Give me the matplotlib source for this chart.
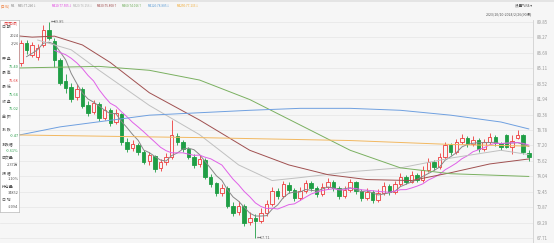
import numpy as np
import pandas as pd
import matplotlib
matplotlib.use("Agg")
import matplotlib.pyplot as plt

plt.rcParams['font.family'] = ['Noto Sans CJK SC', 'DejaVu Sans']

# candle data, index 0 = first candle right of the info panel
idx = np.arange(-3, 92)
opens = [85.0, 85.8, 85.3,
         85.65, 87.7, 86.5, 86.3, 87.5, 89.0, 87.9, 86.0, 83.8, 83.2,
         82.2, 83.0, 81.3, 80.6, 81.4, 80.0, 80.8, 79.6, 80.4, 77.6,
         76.9, 77.2, 76.5, 75.6, 76.1, 74.9, 75.5, 76.0, 78.2, 77.5,
         76.8, 76.0, 75.3, 75.7, 74.0, 73.3, 72.3, 72.8, 71.0, 70.4,
         71.0, 69.3, 69.8, 69.5, 70.3, 71.2, 72.5, 72.0, 73.1, 72.6,
         71.8, 72.5, 73.3, 72.8, 72.2, 72.9, 73.5, 72.8, 72.0, 72.6,
         73.4, 72.5, 71.8, 72.4, 71.6, 72.3, 73.0, 72.4, 73.2, 74.0,
         73.5, 74.2, 73.7, 74.7, 75.5, 75.0, 76.0, 77.2, 76.5, 77.5,
         78.0, 77.3, 77.8, 76.8, 77.5, 78.1, 77.4, 78.27, 77.0, 78.0,
         78.27, 76.40]
closes = [85.8, 85.3, 85.7,
          87.7, 87.0, 87.5, 87.2, 89.0, 88.2, 86.0, 83.6, 83.1, 82.0,
          83.0, 81.2, 80.5, 81.5, 80.0, 80.8, 79.5, 80.5, 77.5, 76.8,
          77.3, 76.5, 75.5, 76.2, 74.8, 75.5, 76.0, 78.3, 77.5, 76.8,
          76.0, 75.2, 75.8, 74.0, 73.2, 72.3, 72.8, 71.0, 70.3, 71.0,
          69.2, 69.8, 69.5, 70.3, 71.2, 72.5, 72.0, 73.2, 72.6, 71.8,
          72.5, 73.3, 72.8, 72.2, 72.9, 73.5, 72.8, 72.0, 72.6, 73.4,
          72.5, 71.8, 72.4, 71.6, 72.3, 73.0, 72.4, 73.2, 74.0, 73.5,
          74.2, 73.7, 74.7, 75.5, 75.0, 76.0, 77.2, 76.5, 77.5, 78.0,
          77.3, 77.8, 76.8, 77.5, 78.1, 77.4, 77.0, 77.04, 77.7, 78.27,
          76.49, 76.02]
highs = [86.2, 86.1, 86.0,
         88.0, 88.0, 87.8, 87.6, 89.5, 89.85, 88.2, 86.2, 84.5, 83.6,
         83.5, 83.2, 81.8, 81.9, 81.6, 81.2, 81.0, 80.9, 80.5, 78.0,
         77.8, 77.4, 76.7, 76.5, 76.2, 75.8, 76.4, 79.8, 78.5, 77.8,
         77.0, 76.3, 76.2, 75.9, 74.3, 73.5, 73.2, 73.0, 71.4, 71.5,
         71.2, 70.4, 70.2, 70.8, 71.6, 72.9, 72.8, 73.6, 73.4, 72.8,
         72.9, 73.7, 73.6, 73.0, 73.3, 73.9, 73.7, 73.0, 73.0, 73.8,
         73.6, 72.7, 72.8, 72.6, 72.7, 73.4, 73.2, 73.6, 74.4, 74.2,
         74.6, 74.4, 75.1, 75.9, 75.7, 76.4, 77.6, 77.4, 77.9, 78.4,
         78.2, 78.2, 78.0, 77.9, 78.5, 78.3, 77.6, 78.4, 78.3, 78.8,
         78.4, 76.68]
lows = [84.7, 85.0, 85.0,
        85.3, 86.6, 86.3, 86.0, 87.3, 88.0, 85.2, 83.4, 82.6, 81.7,
        81.9, 81.0, 80.2, 80.4, 79.7, 79.8, 79.2, 79.4, 77.2, 76.5,
        76.6, 76.2, 75.3, 75.2, 74.5, 74.6, 75.2, 75.8, 77.2, 76.5,
        75.8, 74.9, 75.0, 73.8, 72.9, 72.0, 72.0, 70.8, 70.0, 70.1,
        68.9, 69.0, 67.71, 69.2, 70.0, 71.0, 71.7, 71.8, 72.3, 71.5,
        71.6, 72.3, 72.5, 71.9, 72.0, 72.7, 72.5, 71.7, 71.8, 72.4,
        72.2, 71.5, 71.6, 71.3, 71.4, 72.1, 72.1, 72.2, 73.0, 73.2,
        73.3, 73.4, 73.5, 74.5, 74.7, 74.8, 75.8, 76.2, 76.3, 77.3,
        77.0, 77.1, 76.5, 76.6, 77.3, 77.1, 76.7, 76.9, 76.3, 77.9,
        76.3, 75.64]

# moving averages (candle index, price)
ma20_x = [3, 9, 14, 23, 32, 39, 45, 50, 59, 68, 77, 86, 91]
ma20_y = [88.0, 87.0, 84.9, 81.3, 78.3, 75.2, 73.6, 73.9, 74.5, 74.9, 75.9, 76.7, 76.26]
ma30_x = [-4, 2, 6, 11, 16, 23, 32, 41, 48, 55, 62, 70, 77, 84, 91]
ma30_y = [88.6, 88.3, 88.4, 87.5, 85.7, 82.6, 79.8, 76.7, 75.2, 74.2, 73.7, 73.6, 74.4, 75.3, 75.81]
ma60_x = [-4, 14, 23, 32, 41, 50, 59, 68, 77, 91]
ma60_y = [85.1, 85.3, 84.9, 83.9, 81.9, 79.3, 76.7, 74.9, 74.3, 74.02]
ma120_x = [-4, 0, 7, 23, 41, 50, 59, 68, 77, 86, 91]
ma120_y = [78.1, 78.3, 79.1, 80.3, 80.8, 81.0, 81.0, 80.8, 80.3, 79.6, 78.89]
ma250_x = [-4, 32, 59, 77, 91]
ma250_y = [78.3, 78.0, 77.7, 77.3, 77.13]

y_ticks = [89.85, 88.27, 86.69, 85.11, 83.52, 81.94, 80.36, 78.78,
           77.20, 75.62, 74.04, 72.45, 70.87, 69.29, 67.71]

legend_items = [("MA", "#888888", 11), ("MA5:77.240\u2193", "#888888", 18),
                ("MA10:77.505\u2193", "#e040e0", 52), ("MA20:76.256\u2193", "#b0b0b0", 73),
                ("MA30:75.808\u2191", "#9c4545", 97), ("MA60:74.016\u2191", "#6aaa55", 122),
                ("MA120:78.885\u2193", "#5b9bd5", 148), ("MA250:77.133\u2193", "#f0a830", 177)]

panel_rows = [("日 期", "#555555"), ("2024", "#555555"), ("2/26", "#555555"),
              ("开 盘", "#555555"), ("76.40", "#2a9d4a"),
              ("最 高", "#555555"), ("76.68", "#e03030"),
              ("最 低", "#555555"), ("75.64", "#2a9d4a"),
              ("收 盘", "#555555"), ("76.02", "#2a9d4a"),
              ("金 额", "#555555"),
              ("涨 跌", "#555555"), ("-0.47", "#2a9d4a"),
              ("涨跌幅", "#555555"), ("-0.61%", "#2a9d4a"),
              ("成交量", "#555555"), ("2.37万", "#555555"),
              ("振 幅", "#555555"), ("1.10%", "#555555"),
              ("持仓量", "#555555"), ("34852", "#555555"),
              ("日 增", "#555555"), ("-2094", "#555555")]
panel_y = [27, 36, 43, 59, 67, 73, 81, 87, 95, 102, 109, 117,
           130, 136, 144, 151, 158, 165, 173, 179, 187, 193, 200, 207]

W, H = 554, 243
BG = "#f6f6f6"
UP = "#ee3b3b"
DOWN = "#1f9e45"

fig = plt.figure(figsize=(W / 100, H / 100), dpi=100, facecolor=BG)
ax = fig.add_axes([0, 0, 533 / W, 223 / H], facecolor=BG)

o = np.array(opens)
c = np.array(closes)
hi = np.array(highs)
lo = np.array(lows)
up = c >= o

ax.vlines(idx, lo, hi, color=np.where(up, UP, DOWN), lw=0.6, zorder=2)
body_lo = np.minimum(o, c)
body_h = np.maximum(np.abs(c - o), 0.05)
ax.bar(idx[up], body_h[up], bottom=body_lo[up], width=0.62,
       facecolor=BG, edgecolor=UP, linewidth=0.6, zorder=3)
ax.bar(idx[~up], body_h[~up], bottom=body_lo[~up], width=0.62,
       facecolor=DOWN, edgecolor=DOWN, linewidth=0.6, zorder=3)

s = pd.Series(closes, index=idx)
ma5 = s.rolling(5).mean()
ma10 = s.rolling(10).mean()
ax.plot(idx, ma5.values, color="#888888", lw=0.7, zorder=4)
ax.plot(idx, ma10.values, color="#e060e8", lw=0.7, zorder=4)
ax.plot(ma20_x, ma20_y, color="#c0c0c0", lw=0.7, zorder=4)
ax.plot(ma30_x, ma30_y, color="#a05050", lw=0.7, zorder=4)
ax.plot(ma60_x, ma60_y, color="#7ab060", lw=0.7, zorder=4)
ax.plot(ma120_x, ma120_y, color="#6fa0e0", lw=0.7, zorder=4)
ax.plot(ma250_x, ma250_y, color="#f2b860", lw=0.7, zorder=4)

ihi = int(np.argmax(hi))
ilo = int(np.argmin(lo))
ax.text(idx[ihi] + 0.4, hi[ihi], "\u219089.85", fontsize=2.8, color="#666666",
        va="center", ha="left", zorder=5)
ax.text(idx[ilo] + 0.3, lo[ilo], "\u219067.71", fontsize=2.8, color="#666666",
        va="center", ha="left", zorder=5)

px = 0.1025
ax.set_ylim(67.71 - 5 * px, 89.85 + 2 * px)
ax.set_xlim((0 - 21) / 5.58, (533 - 21) / 5.58)
ax.set_yticks(y_ticks)
ax.set_yticklabels(["%.2f" % v for v in y_ticks])
ax.yaxis.tick_right()
ax.tick_params(axis="y", length=0, pad=3, labelsize=3.2, labelcolor="#999999")
ax.set_xticks([])
ax.grid(axis="y", color="#e6e6e6", lw=0.5)
for side in ["top", "bottom", "left"]:
    ax.spines[side].set_visible(False)
ax.spines["right"].set_color("#d0d0d0")
ax.spines["right"].set_linewidth(0.6)

# info panel on the left
pan = fig.add_axes([0, (H - 212) / H, 19 / W, (212 - 20) / H], facecolor="white")
pan.set_xlim(0, 19)
pan.set_ylim(212, 20)
pan.set_xticks([])
pan.set_yticks([])
for sp in pan.spines.values():
    sp.set_color("#bbbbbb")
    sp.set_linewidth(0.5)
pan.text(18, 23.5, "[同花顺]", fontsize=2.8, color="#e05050", ha="right", va="center")
for (txt, col), yy in zip(panel_rows, panel_y):
    if txt[0].isdigit() or txt[0] == "-":
        pan.text(18.5, yy, txt, fontsize=2.8, color=col, ha="right", va="center")
    else:
        pan.text(1.5, yy, txt, fontsize=2.8, color=col, ha="left", va="center")

# header
fig.add_artist(plt.Rectangle((0, 1 - 2 / H), 1, 2 / H, transform=fig.transFigure,
                             facecolor="#e4e4e4", edgecolor="none"))
fig.text(1 / W, 1 - 6 / H, "[日线]", fontsize=2.4, color="#f08040", va="center", ha="left")
for txt, col, xx in legend_items:
    fig.text(xx / W, 1 - 6 / H, txt, fontsize=2.2, color=col, va="center", ha="left")
fig.text(532 / W, 1 - 6 / H, "设置均线 \u25be", fontsize=2.6, color="#555555", va="center", ha="right")
fig.text(532 / W, 1 - 14 / H, "2023/10/10-2024/2/26(90根)", fontsize=2.6, color="#555555",
         va="center", ha="right")

fig.savefig("out.png", dpi=100, facecolor=BG)
